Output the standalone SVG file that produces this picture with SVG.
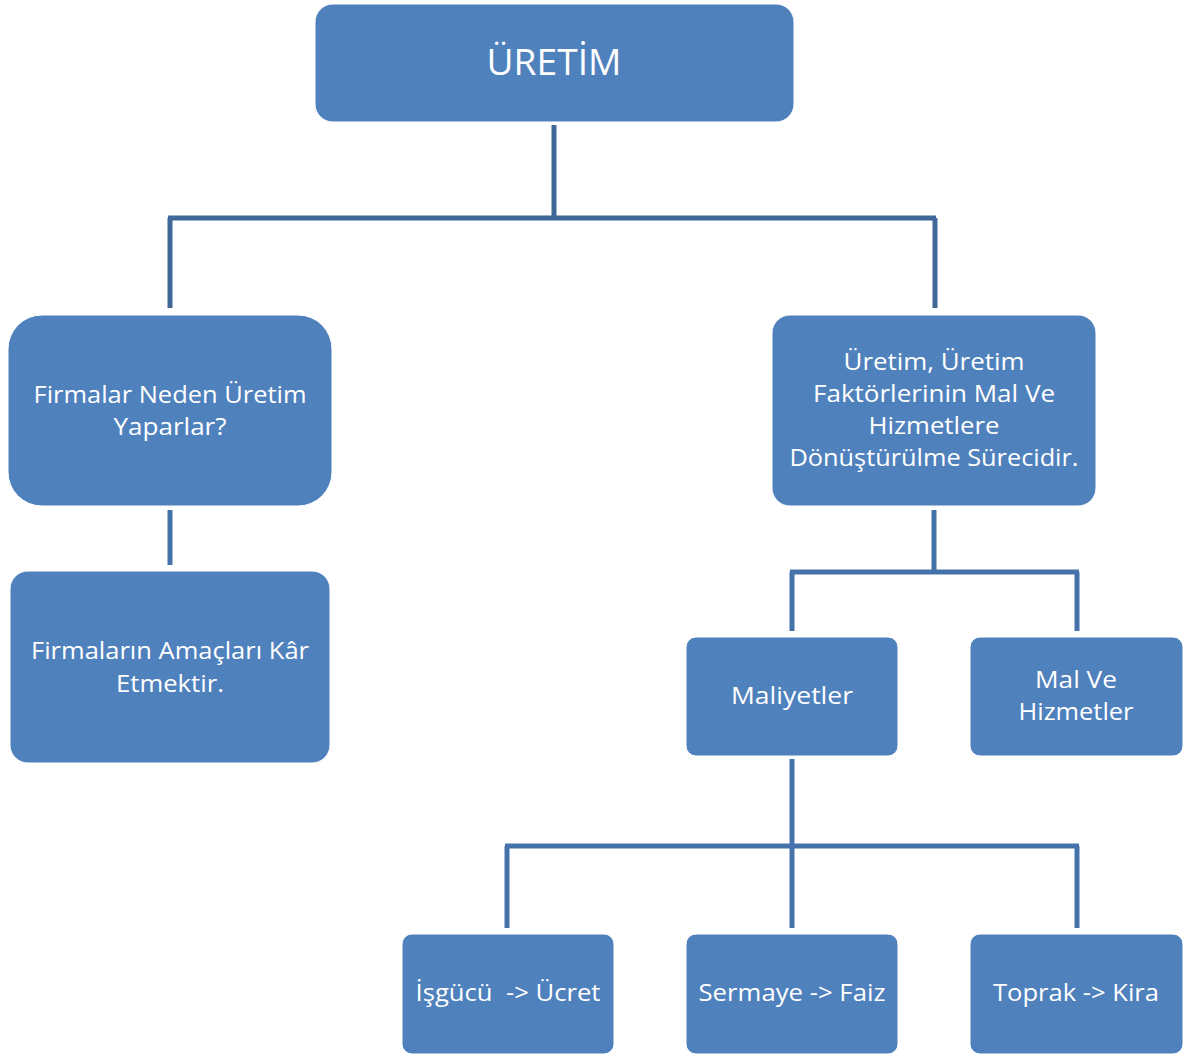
<svg xmlns="http://www.w3.org/2000/svg" width="1193" height="1055" viewBox="0 0 1193 1055">
<style>
.box{fill:#4F81BD;stroke:#ffffff;stroke-width:1}
.t{font-family:"Open Sans","Noto Sans","DejaVu Sans",sans-serif;fill:#ffffff;font-size:23px;text-anchor:middle}
.big{font-size:36px}
.c{fill:none;stroke:#4672AC;stroke-width:5;stroke-linecap:butt;stroke-linejoin:miter}
.c0{stroke:#3F6797}
</style>
<rect width="1193" height="1055" fill="#ffffff"/>
<g id="connectors">
<path class="c c0" d="M554,125 V218 M168,218 H936 M170,218 V308 M935,218 V308"/>
<path class="c" d="M170,510 V565"/>
<path class="c" d="M934,510 V572 M790,572 H1079 M792,572 V631 M1077,572 V631"/>
<path class="c" d="M792,759 V928 M505,846 H1079 M507,846 V928 M1077,846 V928"/>
</g>
<g id="uretim">
<rect class="box" x="315" y="4" width="479" height="118" rx="18"/>
<text class="t big" x="554" y="75" textLength="135" lengthAdjust="spacingAndGlyphs">ÜRETİM</text>
</g>
<g id="neden">
<rect class="box" x="8" y="315" width="324" height="191" rx="34"/>
<text class="t" x="170" y="403" textLength="273" lengthAdjust="spacingAndGlyphs">Firmalar Neden Üretim</text>
<text class="t" x="170" y="435" textLength="113" lengthAdjust="spacingAndGlyphs">Yaparlar?</text>
</g>
<g id="amac">
<rect class="box" x="10" y="571" width="320" height="192" rx="18"/>
<text class="t" x="170" y="659" textLength="278" lengthAdjust="spacingAndGlyphs">Firmaların Amaçları Kâr</text>
<text class="t" x="170" y="692" textLength="108" lengthAdjust="spacingAndGlyphs">Etmektir.</text>
</g>
<g id="tanim">
<rect class="box" x="772" y="315" width="324" height="191" rx="18"/>
<text class="t" x="934" y="370" textLength="181" lengthAdjust="spacingAndGlyphs">Üretim, Üretim</text>
<text class="t" x="934" y="402" textLength="242" lengthAdjust="spacingAndGlyphs">Faktörlerinin Mal Ve</text>
<text class="t" x="934" y="434" textLength="131" lengthAdjust="spacingAndGlyphs">Hizmetlere</text>
<text class="t" x="934" y="466" textLength="289" lengthAdjust="spacingAndGlyphs">Dönüştürülme Sürecidir.</text>
</g>
<g id="maliyetler">
<rect class="box" x="686" y="637" width="212" height="119" rx="10"/>
<text class="t" x="792" y="704" textLength="122" lengthAdjust="spacingAndGlyphs">Maliyetler</text>
</g>
<g id="malhizmet">
<rect class="box" x="970" y="637" width="213" height="119" rx="10"/>
<text class="t" x="1076" y="688" textLength="82" lengthAdjust="spacingAndGlyphs">Mal Ve</text>
<text class="t" x="1076" y="720" textLength="115" lengthAdjust="spacingAndGlyphs">Hizmetler</text>
</g>
<g id="isgucu">
<rect class="box" x="402" y="934" width="212" height="120" rx="10"/>
<text class="t" x="508" y="1001" textLength="185" lengthAdjust="spacingAndGlyphs" xml:space="preserve">İşgücü  -&gt; Ücret</text>
</g>
<g id="sermaye">
<rect class="box" x="686" y="934" width="212" height="120" rx="10"/>
<text class="t" x="792" y="1001" textLength="187" lengthAdjust="spacingAndGlyphs">Sermaye -&gt; Faiz</text>
</g>
<g id="toprak">
<rect class="box" x="970" y="934" width="213" height="120" rx="10"/>
<text class="t" x="1076" y="1001" textLength="166" lengthAdjust="spacingAndGlyphs">Toprak -&gt; Kira</text>
</g>
</svg>
